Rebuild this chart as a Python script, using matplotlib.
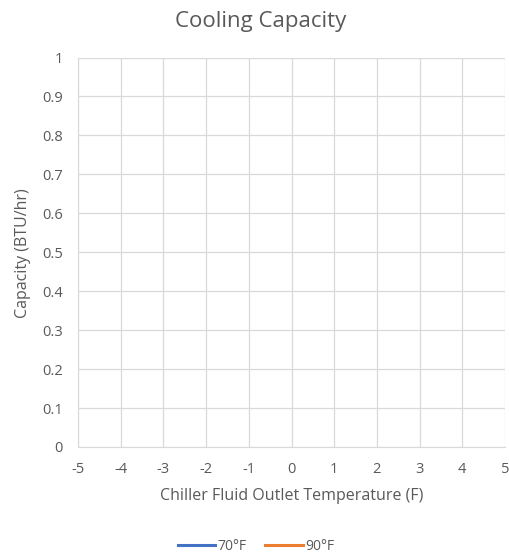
import matplotlib
matplotlib.use("Agg")
import matplotlib.pyplot as plt

# chart has no data points yet - just the two empty series
temp_70 = []
cap_70 = []
temp_90 = []
cap_90 = []
x_ticks = [-5, -4, -3, -2, -1, 0, 1, 2, 3, 4, 5]
y_ticks = [0, 0.1, 0.2, 0.3, 0.4, 0.5, 0.6, 0.7, 0.8, 0.9, 1]
y_labels = ["0", "0.1", "0.2", "0.3", "0.4", "0.5", "0.6", "0.7", "0.8", "0.9", "1"]

plt.rcParams['font.family'] = ['Open Sans', 'DejaVu Sans']
plt.rcParams['axes.unicode_minus'] = False
grey = '#595959'
W, H = 510, 557

fig = plt.figure(figsize=(W / 100, H / 100), dpi=100)
ax = fig.add_axes([78 / W, 1 - 447 / H, 427 / W, 389.5 / H])

ax.plot(temp_70, cap_70, color='#4472C4', linewidth=2.2, label='70°F')
ax.plot(temp_90, cap_90, color='#ED7D31', linewidth=2.2, label='90°F')

ax.set_xlim(-5, 5)
ax.set_ylim(0, 1)
ax.set_xticks(x_ticks)
ax.set_yticks(y_ticks)
ax.set_yticklabels(y_labels)
ax.tick_params(length=0, labelsize=10.5, colors=grey)
ax.tick_params(axis='y', pad=11)
ax.tick_params(axis='x', pad=11)
ax.grid(True, color='#D9D9D9', linewidth=0.9)
for s in ax.spines.values():
    s.set_visible(False)
ax.spines['left'].set_visible(True)
ax.spines['left'].set_color('#D9D9D9')
ax.spines['bottom'].set_visible(True)
ax.spines['bottom'].set_color('#D9D9D9')

fig.text(261 / W, 1 - 22 / H, 'Cooling Capacity', fontsize=16, color=grey,
         ha='center', va='center')
fig.text(292 / W, 1 - 496 / H, 'Chiller Fluid Outlet Temperature (F)', fontsize=11.5,
         color=grey, ha='center', va='center')
fig.text(23 / W, 1 - 253 / H, 'Capacity (BTU/hr)', fontsize=11.5, color=grey,
         ha='center', va='center', rotation=90)

fig.legend(loc='center', bbox_to_anchor=(256 / W, 1 - 546 / H), ncol=2, frameon=False,
           fontsize=10, labelcolor=grey, handlelength=2.7, columnspacing=1.3,
           handletextpad=0.2)

fig.savefig('out.png', dpi=100)
